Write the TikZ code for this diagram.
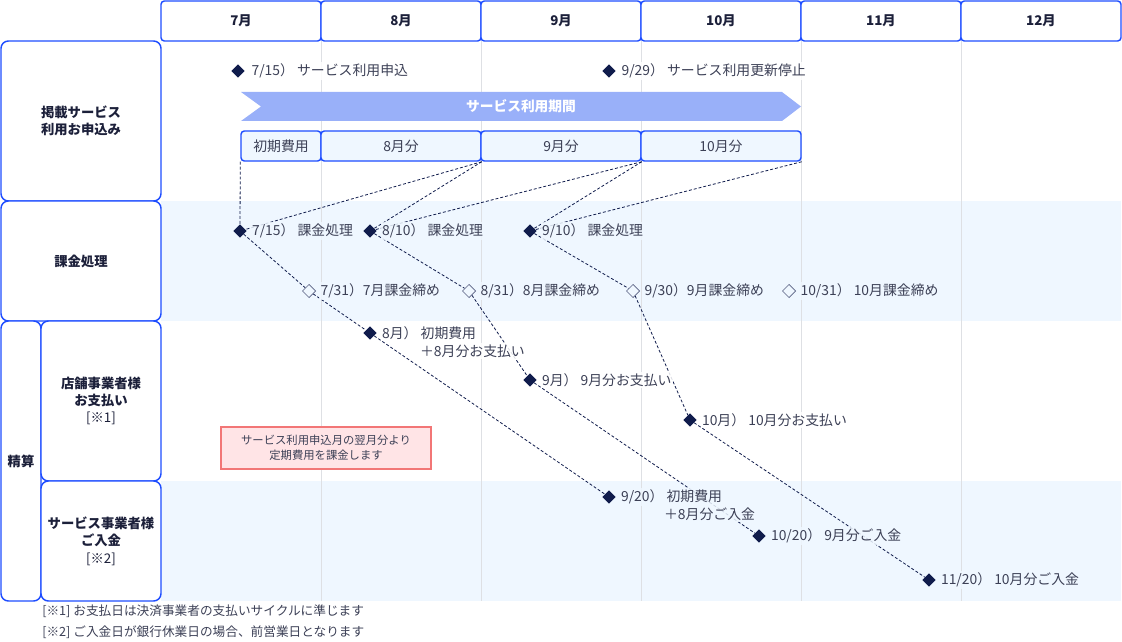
\documentclass[tikz,border=0pt]{standalone}
\usepackage{fontspec}
\setmainfont{Noto Sans CJK JP}
\usetikzlibrary{shapes.geometric}

\definecolor{frameblue}{RGB}{30,77,255}
\definecolor{bandblue}{RGB}{239,247,255}
\definecolor{periodblue}{RGB}{153,176,249}
\definecolor{marknavy}{RGB}{16,28,76}
\definecolor{textgray}{RGB}{60,64,86}
\definecolor{headdark}{RGB}{28,32,58}
\definecolor{gridgray}{RGB}{222,224,228}
\definecolor{notefill}{RGB}{255,228,230}
\definecolor{noteline}{RGB}{242,118,118}

\pgfdeclarelayer{gridlayer}
\pgfdeclarelayer{wirelayer}
\pgfsetlayers{gridlayer,wirelayer,main}

\tikzset{
  monthcell/.style={draw=frameblue, line width=1.1pt, rounded corners=2.5pt, fill=white,
    minimum width=120pt, minimum height=30pt, inner sep=0pt, font=\bfseries\fontsize{10}{12}\selectfont, text=headdark},
  rowhead/.style={draw=frameblue, line width=1.1pt, rounded corners=5.5pt, fill=white, inner sep=0pt,
    align=center, font=\bfseries\fontsize{10}{13}\selectfont, text=headdark},
  feebox/.style={draw=frameblue, line width=1.1pt, rounded corners=2.5pt, fill=bandblue,
    minimum height=22.5pt, inner sep=0pt, text=textgray},
  eventmark/.style={diamond, fill=marknavy, minimum width=10pt, minimum height=10pt, inner sep=0pt},
  closemark/.style={diamond, draw=marknavy!70, line width=0.5pt, fill=bandblue,
    minimum width=10pt, minimum height=10pt, inner sep=0pt},
  evtext/.style={right, inner sep=1pt, text=textgray, fill=white, fill opacity=0.85, text opacity=1},
  bandtext/.style={evtext, fill=bandblue},
  wire/.style={draw=marknavy, line width=0.6pt, dash pattern=on 2.2pt off 1.5pt},
}

\begin{document}
\begin{tikzpicture}[x=0.75pt, y=-0.75pt, font=\fontsize{10.4}{12.5}\selectfont]
  \useasboundingbox (0,0) rectangle (1122,642);

  % Bands and grid
  \begin{pgfonlayer}{gridlayer}
    \fill[bandblue] (161,201) rectangle (1121,321);
    \fill[bandblue] (161,481) rectangle (1121,601);
    \foreach \x in {321,481,641,801,961}
      \draw[gridgray, line width=0.6pt] (\x,41) -- (\x,601);
  \end{pgfonlayer}

  % Months
  \foreach \m [count=\i from 0] in {7,8,9,10,11,12}
    \node[monthcell] (m\m) at (241+160*\i,21) {\m 月};

  % Row heads
  \node[rowhead, minimum width=120pt, minimum height=120pt] (apply) at (81,121) {掲載サービス\\利用お申込み};
  \node[rowhead, minimum width=120pt, minimum height=90pt] (bill) at (81,261) {課金処理};
  \node[rowhead, minimum width=30pt, minimum height=210pt] (settle) at (21,461) {精算};
  \node[rowhead, minimum width=90pt, minimum height=120pt] (shop) at (101,401) {店舗事業者様\\お支払い\\{\mdseries [※1]}};
  \node[rowhead, minimum width=90pt, minimum height=90pt] (vendor) at (101,541) {サービス事業者様\\ご入金\\{\mdseries [※2]}};

  % Service period
  \fill[periodblue] (241,92) -- (782,92) -- (801,106.5) -- (782,121) -- (241,121) -- (261,106.5) -- cycle;
  \node[font=\bfseries\fontsize{10.3}{12}\selectfont, text=white] (period) at (521,106.5) {サービス利用期間};

  % Fee boxes
  \node[feebox, minimum width=60pt] (fee0) at (281,146) {初期費用};
  \foreach \m [count=\i from 0] in {8,9,10}
    \node[feebox, minimum width=120pt] (fee\m) at (401+160*\i,146) {\m 月分};

  % Application
  \node[eventmark] (a715) at (238,71) {};
  \node[evtext] (a715t) at (250,71) {7/15） サービス利用申込};
  \node[eventmark] (a929) at (609,71) {};
  \node[evtext] (a929t) at (620,71) {9/29） サービス利用更新停止};

  % Billing
  \node[eventmark] (b715) at (240,231) {};
  \node[bandtext] (b715t) at (250.5,231) {7/15） 課金処理};
  \node[eventmark] (b810) at (370,231) {};
  \node[bandtext] (b810t) at (380.5,231) {8/10） 課金処理};
  \node[eventmark] (b910) at (530,231) {};
  \node[bandtext] (b910t) at (540.5,231) {9/10） 課金処理};

  % Closing
  \node[closemark] (c731) at (309,291) {};
  \node[bandtext] (c731t) at (319,291) {7/31）7月課金締め};
  \node[closemark] (c831) at (469,291) {};
  \node[bandtext] (c831t) at (479,291) {8/31）8月課金締め};
  \node[closemark] (c930) at (633,291) {};
  \node[bandtext] (c930t) at (643,291) {9/30）9月課金締め};
  \node[closemark] (c1031) at (789,291) {};
  \node[bandtext] (c1031t) at (799,291) {10/31） 10月課金締め};

  % Payment to shop
  \node[eventmark] (p8) at (370,333) {};
  \node[evtext] (p8t) at (380.5,333) {8月） 初期費用};
  \node[evtext] (p8u) at (418.5,351) {＋8月分お支払い};
  \node[eventmark] (p9) at (530,380) {};
  \node[evtext] (p9t) at (540.5,380) {9月） 9月分お支払い};
  \node[eventmark] (p10) at (690,420) {};
  \node[evtext] (p10t) at (700.5,420) {10月） 10月分お支払い};

  % Deposit to vendor
  \node[eventmark] (d920) at (609,497) {};
  \node[bandtext] (d920t) at (619.5,497) {9/20） 初期費用};
  \node[bandtext] (d920u) at (662.5,514) {＋8月分ご入金};
  \node[eventmark] (d1020) at (759,536) {};
  \node[bandtext] (d1020t) at (769.5,536) {10/20） 9月分ご入金};
  \node[eventmark] (d1120) at (929,580) {};
  \node[bandtext] (d1120t) at (939.5,580) {11/20） 10月分ご入金};

  % Note
  \node[draw=noteline, line width=1.3pt, fill=notefill, minimum width=157.5pt, minimum height=31.5pt,
    align=center, text=textgray, font=\fontsize{8.5}{11.5}\selectfont] (note) at (326,448)
    {サービス利用申込月の翌月分より\\定期費用を課金します};

  % Footnotes
  \node[right, inner sep=0pt, text=textgray, font=\fontsize{9.5}{11}\selectfont] (fn1) at (42,611)
    {[※1] お支払日は決済事業者の支払いサイクルに準じます};
  \node[right, inner sep=0pt, text=textgray, font=\fontsize{9.5}{11}\selectfont] (fn2) at (42,632)
    {[※2] ご入金日が銀行休業日の場合、前営業日となります};

  % Wires
  \begin{pgfonlayer}{wirelayer}
    \draw[wire] (fee0.south west) -- (b715);
    \draw[wire] (fee8.south east) -- (b715);
    \draw[wire] (fee8.south east) -- (b810);
    \draw[wire] (fee9.south east) -- (b810);
    \draw[wire] (fee9.south east) -- (b910);
    \draw[wire] (fee10.south east) -- (b910);
    \draw[wire] (b715) -- (c731) -- (p8) -- (d920);
    \draw[wire] (b810) -- (c831) -- (p9) -- (d1020);
    \draw[wire] (b910) -- (c930) -- (p10) -- (d1120);
  \end{pgfonlayer}
\end{tikzpicture}
\end{document}
